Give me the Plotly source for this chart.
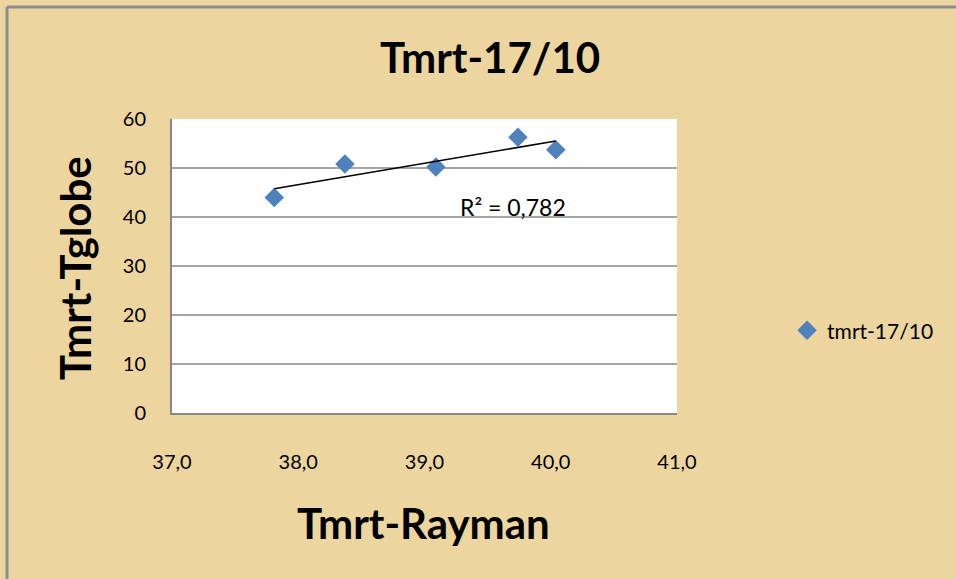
import numpy as np
import plotly.graph_objects as go

# Data
x_rayman = [37.81, 38.37, 39.09, 39.74, 40.04]
y_globe = [44.0, 50.8, 50.2, 56.3, 53.7]
series_name = "tmrt-17/10"
r2_label = "R² = 0,782"
x_ticks = [37, 38, 39, 40, 41]
y_ticks = [0, 10, 20, 30, 40, 50, 60]

FONT = "Lato"
BG = "#ECD59E"

slope, intercept = np.polyfit(x_rayman, y_globe, 1)
tx = [min(x_rayman), max(x_rayman)]
ty = [slope * v + intercept for v in tx]

fig = go.Figure()
fig.add_trace(go.Scatter(
    x=x_rayman, y=y_globe, mode="markers", name=series_name,
    marker=dict(symbol="diamond", size=15, color="#4F81BD"),
))
fig.add_trace(go.Scatter(
    x=tx, y=ty, mode="lines", line=dict(color="black", width=1.5),
    showlegend=False, hoverinfo="skip",
))

fig.update_layout(
    width=956, height=579,
    margin=dict(l=172, r=279, t=119, b=166),
    paper_bgcolor=BG, plot_bgcolor="white",
    separators=",.",
    font=dict(family=FONT, color="black", size=19),
    showlegend=True,
    legend=dict(x=1.218, y=0.28, xanchor="left", yanchor="middle",
                font=dict(size=21, family=FONT), bgcolor="rgba(0,0,0,0)",
                itemwidth=30),
    xaxis=dict(range=[37, 41], tickvals=x_ticks, tickformat=".1f",
               showgrid=False, zeroline=False, showline=True,
               linecolor="#888888", linewidth=2, ticks="",
               ticklabelstandoff=30, tickfont=dict(size=20)),
    yaxis=dict(range=[0, 60], tickvals=y_ticks, showgrid=True,
               gridcolor="#A6A6A6", gridwidth=1.5, zeroline=False,
               showline=True, linecolor="#888888", linewidth=2, ticks="",
               ticklabelstandoff=20, tickfont=dict(size=20)),
    annotations=[
        dict(text="<b>Tmrt-17/10</b>", xref="paper", yref="paper",
             x=(490 - 172) / 505, y=(413 - 57) / 294, showarrow=False,
             font=dict(size=42, family=FONT), xanchor="center", yanchor="middle"),
        dict(text="<b>Tmrt-Tglobe</b>", xref="paper", yref="paper",
             x=(75 - 172) / 505, y=(413 - 268) / 294, showarrow=False,
             textangle=-90,
             font=dict(size=42, family=FONT), xanchor="center", yanchor="middle"),
        dict(text="<b>Tmrt-Rayman</b>", xref="paper", yref="paper",
             x=(423 - 172) / 505, y=(413 - 523) / 294, showarrow=False,
             font=dict(size=42, family=FONT), xanchor="center", yanchor="middle"),
        dict(text=r2_label, xref="paper", yref="paper",
             x=(513 - 172) / 505, y=(413 - 207) / 294, showarrow=False,
             font=dict(size=23, family=FONT), xanchor="center", yanchor="middle"),
    ],
    shapes=[
        dict(type="line", xref="paper", yref="paper",
             x0=(7 - 172) / 505, x1=(7 - 172) / 505,
             y0=(413 - 7) / 294, y1=(413 - 620) / 294,
             line=dict(color="#8C8C8C", width=3)),
        dict(type="line", xref="paper", yref="paper",
             x0=(7 - 172) / 505, x1=(1000 - 172) / 505,
             y0=(413 - 7) / 294, y1=(413 - 7) / 294,
             line=dict(color="#8C8C8C", width=3)),
    ],
)

fig.write_html("out.html")
